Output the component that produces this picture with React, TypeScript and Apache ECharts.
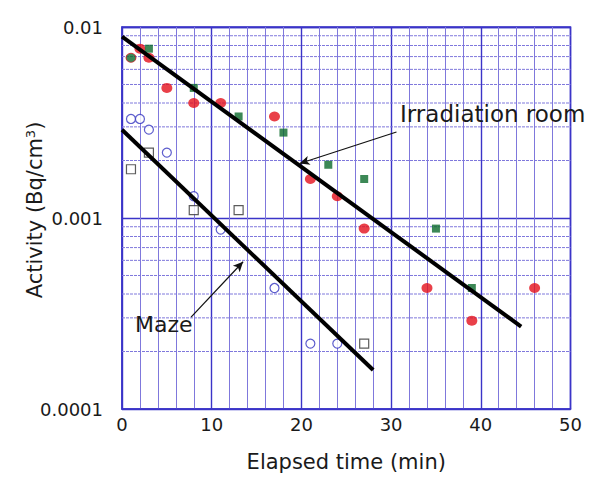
import React, { useEffect, useRef } from "react";
import * as echarts from "echarts";

// Irradiation room: red filled circles
const irrRedX = [2, 3, 5, 8, 11, 17, 21, 24, 27, 34, 39, 46];
const irrRedY = [0.0077, 0.0069, 0.0048, 0.004, 0.004, 0.0034, 0.0016, 0.0013, 0.00088, 0.00043, 0.00029, 0.00043];
// Irradiation room: green filled squares
const irrGreenX = [3, 8, 13, 18, 23, 27, 35, 39];
const irrGreenY = [0.0077, 0.0048, 0.0034, 0.0028, 0.0019, 0.0016, 0.00088, 0.00043];
// Irradiation room: green filled circle
const irrGreenDotX = [1];
const irrGreenDotY = [0.0069];
// Maze: blue open circles
const mazeCircleX = [1, 2, 3, 5, 8, 11, 17, 21, 24];
const mazeCircleY = [0.0033, 0.0033, 0.0029, 0.0022, 0.0013, 0.00087, 0.00043, 0.00022, 0.00022];
// Maze: black open squares
const mazeSquareX = [1, 3, 8, 13, 27];
const mazeSquareY = [0.0018, 0.0022, 0.0011, 0.0011, 0.00022];
// Fit lines
const irrFitX = [0, 44.5];
const irrFitY = [0.0089, 0.00027];
const mazeFitX = [0, 28];
const mazeFitY = [0.0029, 0.00016];
// Minor horizontal grid values
const minorY = [0.0002, 0.0003, 0.0004, 0.0005, 0.0006, 0.0007, 0.0008, 0.0009, 0.002, 0.003, 0.004, 0.005, 0.006, 0.007, 0.008, 0.009];
const xRange = [0, 50];
// Tick labels
const yTickLabels: Record<string, string> = { "0.0001": "0.0001", "0.001": "0.001", "0.01": "0.01" };
// Annotations (data space)
const irrArrow = { from: [30.6, 0.00282], to: [19.8, 0.00193], text: "Irradiation room" };
const mazeArrow = { from: [7.7, 0.000303], to: [13.5, 0.00059], text: "Maze" };

const zip = (xs: number[], ys: number[]) => xs.map((x, i) => [x, ys[i]]);

const FONT = "DejaVu Sans";
const GRID_MAJOR = "#3b34c8";
const GRID_MINOR = "#7f78dc";

export default function App() {
  const ref = useRef<HTMLDivElement>(null);
  useEffect(() => {
    if (!ref.current) return;
    const chart = echarts.init(ref.current, undefined, { renderer: "svg" });
    const minorSeries = minorY.map((v) => ({
      name: "grid " + v,
      type: "line",
      data: zip(xRange, [v, v]),
      symbol: "none",
      showSymbol: false,
      silent: true,
      lineStyle: { color: GRID_MINOR, width: 1, type: [3, 1] },
      z: 1,
    }));
    chart.setOption({
      animation: false,
      backgroundColor: "#ffffff",
      textStyle: { fontFamily: FONT },
      grid: {
        left: 122,
        top: 27,
        right: 22.5,
        bottom: 66.5,
        show: true,
        borderColor: GRID_MAJOR,
        borderWidth: 1.5,
      },
      xAxis: {
        type: "value",
        min: 0,
        max: 50,
        interval: 10,
        name: "Elapsed time (min)",
        nameLocation: "middle",
        nameGap: 42,
        nameTextStyle: { fontSize: 21, color: "#1a1a1a", fontFamily: FONT },
        axisLine: { show: true, lineStyle: { color: GRID_MAJOR, width: 1.5 } },
        axisTick: { show: false },
        axisLabel: { fontSize: 18, color: "#1a1a1a", margin: 6, fontFamily: FONT },
        splitLine: { show: true, lineStyle: { color: GRID_MAJOR, width: 1.4 } },
        minorTick: { show: false, splitNumber: 5 },
        minorSplitLine: { show: true, lineStyle: { color: GRID_MINOR, width: 1 } },
      },
      yAxis: {
        type: "log",
        logBase: 10,
        min: 0.0001,
        max: 0.01,
        axisLine: { show: true, lineStyle: { color: GRID_MAJOR, width: 1.5 } },
        axisTick: { show: false },
        axisLabel: {
          fontSize: 18,
          color: "#1a1a1a",
          margin: 19,
          fontFamily: FONT,
          formatter: (v: number) => {
            const k = String(Number(v.toPrecision(3)));
            return yTickLabels[k] ?? "";
          },
        },
        splitLine: { show: true, lineStyle: { color: GRID_MAJOR, width: 1.4 } },
      },
      series: [
        ...minorSeries,
        {
          name: "Irradiation room (red)",
          type: "scatter",
          symbol: "circle",
          symbolSize: [11, 10],
          itemStyle: { color: "#e3101c" },
          z: 3,
          data: zip(irrRedX, irrRedY),
        },
        {
          name: "Irradiation room (green)",
          type: "scatter",
          symbol: "rect",
          symbolSize: 8,
          itemStyle: { color: "#0b6a2c" },
          z: 3,
          data: zip(irrGreenX, irrGreenY),
        },
        {
          name: "Irradiation room (green dot)",
          type: "scatter",
          symbol: "circle",
          symbolSize: [10, 9],
          itemStyle: { color: "#0b6a2c", borderColor: "#d0202a", borderWidth: 1 },
          z: 3,
          data: zip(irrGreenDotX, irrGreenDotY),
        },
        {
          name: "Maze (circle)",
          type: "scatter",
          symbol: "circle",
          symbolSize: 9,
          itemStyle: { color: "#ffffff", borderColor: "#3535c0", borderWidth: 1.2 },
          z: 3,
          data: zip(mazeCircleX, mazeCircleY),
        },
        {
          name: "Maze (square)",
          type: "scatter",
          symbol: "rect",
          symbolSize: 9,
          itemStyle: { color: "#ffffff", borderColor: "#333333", borderWidth: 1.2 },
          z: 3,
          data: zip(mazeSquareX, mazeSquareY),
        },
        {
          name: "Irradiation fit",
          type: "line",
          showSymbol: false,
          symbol: "none",
          lineStyle: { color: "#000000", width: 4 },
          z: 4,
          data: zip(irrFitX, irrFitY),
          markLine: {
            silent: true,
            symbol: ["none", "arrow"],
            symbolSize: [7, 10],
            label: { show: false },
            lineStyle: { color: "#111111", width: 1.2, type: "solid" },
            data: [[{ coord: irrArrow.from }, { coord: irrArrow.to }]],
          },
        },
        {
          name: "Maze fit",
          type: "line",
          showSymbol: false,
          symbol: "none",
          lineStyle: { color: "#000000", width: 4 },
          z: 4,
          data: zip(mazeFitX, mazeFitY),
          markLine: {
            silent: true,
            symbol: ["none", "arrow"],
            symbolSize: [7, 10],
            label: { show: false },
            lineStyle: { color: "#111111", width: 1.2, type: "solid" },
            data: [[{ coord: mazeArrow.from }, { coord: mazeArrow.to }]],
          },
        },
      ],
      graphic: [
        {
          type: "text",
          left: 400,
          top: 102,
          z: 10,
          style: { text: irrArrow.text, fontSize: 23, fontFamily: FONT, fill: "#1a1a1a" },
        },
        {
          type: "text",
          left: 135,
          top: 313,
          z: 10,
          style: { text: mazeArrow.text, fontSize: 22, fontFamily: FONT, fill: "#1a1a1a" },
        },
        {
          type: "text",
          x: 35,
          y: 210,
          rotation: Math.PI / 2,
          z: 10,
          style: {
            text: "{a|Activity (Bq/cm}{s|3}{a|)}",
            align: "center",
            verticalAlign: "middle",
            fontFamily: FONT,
            rich: {
              a: { fontSize: 21, fill: "#1a1a1a", fontFamily: FONT },
              s: { fontSize: 13, fill: "#1a1a1a", fontFamily: FONT, verticalAlign: "top", padding: [0, 0, 10, 0] },
            },
          },
        },
      ],
    });
    return () => chart.dispose();
  }, []);
  return (
    <div
      ref={ref}
      style={{ position: "fixed", left: 0, top: 0, width: 593, height: 477, background: "#fff" }}
    />
  );
}
